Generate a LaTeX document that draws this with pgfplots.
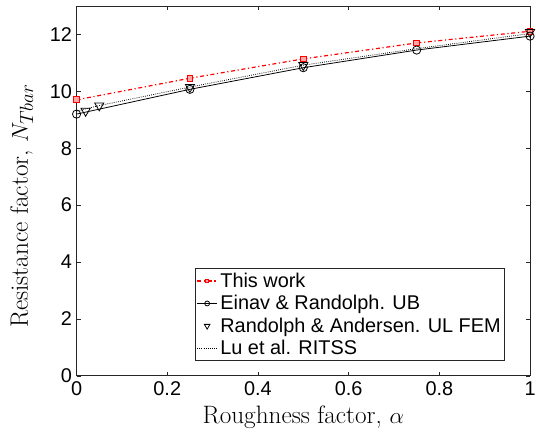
\documentclass[border=0pt]{standalone}
\usepackage{fontspec}
\usepackage{pgfplots}
\pgfplotsset{compat=1.18}
\newfontfamily\arial{Liberation Sans}

\begin{document}
\begin{tikzpicture}
\begin{axis}[
  scale only axis,
  width=342pt, height=279pt,
  xmin=0, xmax=1, ymin=0, ymax=13,
  clip=false,
  xtick={0,0.2,0.4,0.6,0.8,1},
  ytick={0,2,4,6,8,10,12},
  xticklabels={0,0.2,0.4,0.6,0.8,1},
  tick align=inside,
  major tick length=3pt,
  tick style={black!85, line width=0.5pt},
  axis line style={black!85, line width=0.6pt},
  /pgf/number format/assume math mode=true,
  tick label style={font=\arial\fontsize{15}{17}\selectfont},
  xticklabel style={yshift=-1pt},
  label style={font=\fontsize{19}{21}\selectfont},
  xlabel={Roughness factor, $\alpha$},
  ylabel={Resistance factor, $N_{Tbar}$},
  xlabel style={at={(axis description cs:0.5,-0.129)}, anchor=base},
  ylabel style={at={(axis description cs:-0.1075,0.46)}, anchor=base, rotate=0},
  legend style={at={(0.945,0.0403)}, anchor=south east,
    font=\arial\fontsize{15}{17}\selectfont,
    draw=black!85, line width=0.5pt, inner sep=1pt,
    row sep=0.6pt, cells={anchor=west},
    /tikz/every even column/.append style={column sep=1pt}},
  legend image code/.code={%
    \draw[mark repeat=2, mark phase=2, #1,
      every mark/.append style={scale=0.6}]
      plot coordinates {(0pt,0pt) (7.5pt,0pt) (15pt,0pt)};},
  legend cell align=left,
]
\coordinate (sw) at (rel axis cs:0,0);
\coordinate (ne) at (rel axis cs:1,1);
% present solution
\addplot[red, line width=0.9pt, dash dot, mark=square*, mark size=2.2pt,
  mark options={solid, fill=red!35, draw=red, line width=0.7pt}]
  coordinates {(0,9.70) (0.25,10.46) (0.5,11.14) (0.75,11.70) (1,12.11)};
\addlegendentry{This work}
% upper bound
\addplot[black, line width=0.6pt, mark=o, mark size=3.1pt, mark options={solid}]
  coordinates {(0,9.20) (0.25,10.07) (0.5,10.83) (0.75,11.45) (1,11.94)};
\addlegendentry{Einav \& Randolph. UB}
% FEM results
\addplot[only marks, black, mark=triangle, mark size=4pt,
  mark options={rotate=180, line width=0.6pt}]
  coordinates {(0.02,9.31) (0.05,9.50) (0.25,10.15) (0.5,10.92) (1,12.08)};
\addlegendentry{Randolph \& Andersen. UL FEM\hspace{15pt}}
% RITSS results
\addplot[black, line width=0.6pt, densely dotted]
  coordinates {(0,9.30) (0.05,9.50) (0.25,10.15) (0.5,10.92) (0.75,11.50) (1,12.03)};
\addlegendentry{Lu et al. RITSS}
\end{axis}
\pgfresetboundingbox
\path[use as bounding box] ([shift={(-57.75pt,-47.25pt)}]sw) rectangle ([shift={(4.5pt,4.5pt)}]ne);
\end{tikzpicture}
\end{document}
